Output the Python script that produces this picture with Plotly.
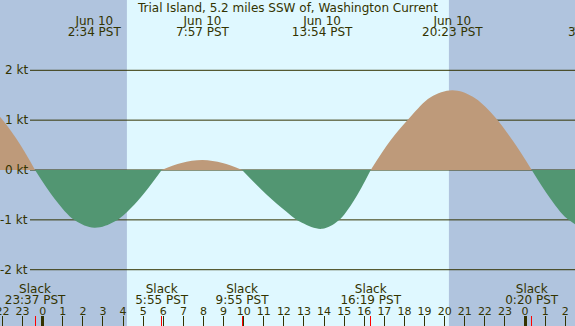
import plotly.graph_objects as go

# ---- data ----
curve_hours = [-3.3, -2.3, -1.3, -0.38, 0.6, 1.6, 2.57, 3.6, 4.7, 5.92,
               6.9, 7.95, 8.95, 9.92,
               10.9, 11.9, 12.9, 13.9, 14.7, 15.5, 16.32,
               17.3, 18.3, 19.3, 20.38, 21.4, 22.4, 23.4, 24.33,
               25.2, 26.1, 27.0, 27.45]
curve_knots = [1.53, 1.15, 0.62, 0, -0.58, -1.01, -1.16, -1.03, -0.63, 0,
               0.14, 0.20, 0.14, 0,
               -0.40, -0.76, -1.06, -1.18, -1.02, -0.60, 0,
               0.59, 1.07, 1.46, 1.60, 1.47, 1.11, 0.58, 0,
               -0.54, -0.98, -1.18, -1.20]

slack_hours = [-0.38, 5.92, 9.92, 16.32, 24.33]
slack_labels = ["23:37 PST", "5:55 PST", "9:55 PST", "16:19 PST", "0:20 PST"]

max_hours = [2.57, 7.95, 13.9, 20.38, 27.45]
max_dates = ["Jun 10", "Jun 10", "Jun 10", "Jun 10", "Jun 11"]
max_labels = ["2:34 PST", "7:57 PST", "13:54 PST", "20:23 PST", "3:27 PST"]

tick_hours = [-2, -1, 0, 1, 2, 3, 4, 5, 6, 7, 8, 9, 10, 11, 12, 13, 14, 15, 16, 17,
              18, 19, 20, 21, 22, 23, 24, 25, 26]
tick_labels = ["22", "23", "0", "1", "2", "3", "4", "5", "6", "7", "8", "9", "10", "11",
               "12", "13", "14", "15", "16", "17", "18", "19", "20", "21", "22", "23",
               "0", "1", "2"]
midnight_hours = [0, 24]

sunrise = 4.19
sunset = 20.21

kt_levels = [-2, -1, 0, 1, 2]
kt_labels = ["-2 kt", "-1 kt", "0 kt", "1 kt", "2 kt"]

title = "Trial Island, 5.2 miles SSW of, Washington Current"

# ---- styles ----
W, H = 575, 326
X_RANGE = [-2.124, 26.483]
Y_RANGE = [-3.129, 3.41]
NIGHT = "#B0C4DE"
DAY = "#DFF8FF"
FLOOD = "#BE9A7A"
EBB = "#529672"
INK = "#333300"
FONT = "DejaVu Sans"

fig = go.Figure()

# split the curve into flood / ebb pieces at slack points
segments = []
cur = [(curve_hours[0], curve_knots[0])]
for h, v in zip(curve_hours[1:], curve_knots[1:]):
    cur.append((h, v))
    if v == 0:
        segments.append(cur)
        cur = [(h, v)]
if len(cur) > 1:
    segments.append(cur)

for seg in segments:
    xs = [p[0] for p in seg]
    ys = [p[1] for p in seg]
    color = FLOOD if sum(ys) > 0 else EBB
    fig.add_trace(go.Scatter(
        x=xs, y=ys, mode="lines", line=dict(width=0, shape="spline", color=color),
        fill="tozeroy", fillcolor=color, hoverinfo="skip", showlegend=False))

txt = dict(family=FONT, size=12, color=INK)

# top labels (max current)
fig.add_trace(go.Scatter(x=max_hours, y=[2.97] * len(max_hours), text=max_dates,
                         mode="text", textfont=txt, textposition="middle center",
                         hoverinfo="skip", showlegend=False))
fig.add_trace(go.Scatter(x=max_hours, y=[2.74] * len(max_hours), text=max_labels,
                         mode="text", textfont=txt, textposition="middle center",
                         hoverinfo="skip", showlegend=False))
# bottom labels (slack)
fig.add_trace(go.Scatter(x=slack_hours, y=[-2.40] * len(slack_hours),
                         text=["Slack"] * len(slack_hours),
                         mode="text", textfont=txt, textposition="middle center",
                         hoverinfo="skip", showlegend=False))
fig.add_trace(go.Scatter(x=slack_hours, y=[-2.63] * len(slack_hours), text=slack_labels,
                         mode="text", textfont=txt, textposition="middle center",
                         hoverinfo="skip", showlegend=False))
# hour labels
fig.add_trace(go.Scatter(x=tick_hours, y=[-2.85] * len(tick_hours), text=tick_labels,
                         mode="text", textfont=dict(family=FONT, size=11, color=INK),
                         textposition="middle center", hoverinfo="skip", showlegend=False))

# dummy traces for overlay tick axes
fig.add_trace(go.Scatter(x=[], y=[], xaxis="x2", showlegend=False))
fig.add_trace(go.Scatter(x=[], y=[], xaxis="x3", showlegend=False))

shapes = []
# night shading
shapes.append(dict(type="rect", xref="x", yref="paper", x0=X_RANGE[0] - 1, x1=sunrise,
                   y0=0, y1=1, fillcolor=NIGHT, line=dict(width=0), layer="below"))
shapes.append(dict(type="rect", xref="x", yref="paper", x0=sunset, x1=X_RANGE[1] + 1,
                   y0=0, y1=1, fillcolor=NIGHT, line=dict(width=0), layer="below"))
# knot lines
for lv in kt_levels:
    shapes.append(dict(type="line", xref="paper", yref="y", x0=30 / W, x1=1, y0=lv, y1=lv,
                       line=dict(color=INK, width=1), layer="below"))

annotations = []
for lv, lab in zip(kt_levels, kt_labels):
    annotations.append(dict(xref="paper", yref="y", x=30 / W, y=lv, text=lab,
                            xanchor="right", yanchor="middle", showarrow=False, font=txt))
annotations.append(dict(xref="paper", yref="paper", x=0.5, y=1 - 8.5 / H, text=title,
                        xanchor="center", yanchor="middle", showarrow=False, font=txt))

axis_common = dict(range=X_RANGE, showgrid=False, zeroline=False, showline=False,
                   showticklabels=False, ticks="inside", ticklen=10, fixedrange=True)

fig.update_layout(
    width=W, height=H, margin=dict(l=0, r=0, t=0, b=0),
    paper_bgcolor=DAY, plot_bgcolor=DAY,
    xaxis=dict(**axis_common, tickmode="array", tickvals=tick_hours, tickcolor=INK,
               tickwidth=1),
    xaxis2=dict(**axis_common, overlaying="x", anchor="y", side="bottom",
                tickmode="array", tickvals=slack_hours, tickcolor="#FF0000", tickwidth=1),
    xaxis3=dict(**axis_common, overlaying="x", anchor="y", side="bottom",
                tickmode="array", tickvals=midnight_hours, tickcolor=INK, tickwidth=3),
    yaxis=dict(range=Y_RANGE, showgrid=False, zeroline=False, showline=False,
               showticklabels=False, ticks="", fixedrange=True),
    shapes=shapes, annotations=annotations, showlegend=False,
)

fig.write_html("out.html", config={"displayModeBar": False})
